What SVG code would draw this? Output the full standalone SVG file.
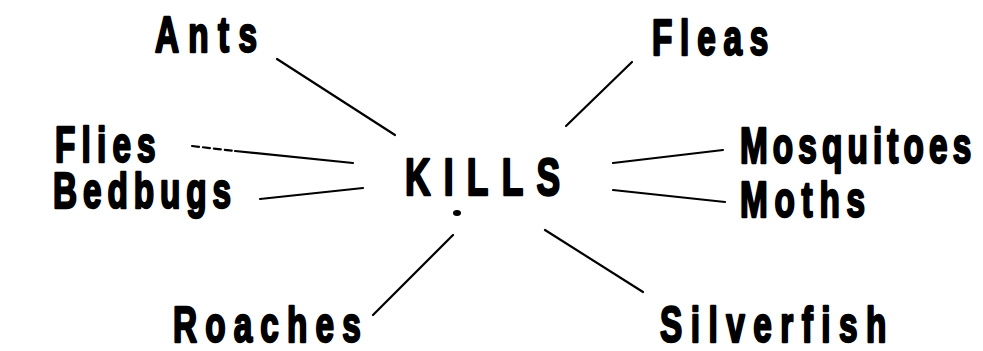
<svg xmlns="http://www.w3.org/2000/svg" width="983" height="351" viewBox="0 0 983 351">
<style>
.t{font-family:"Liberation Sans","DejaVu Sans",sans-serif;font-weight:bold;font-style:normal;font-size:49px;fill:#000;stroke:#000;stroke-width:2.4;stroke-linejoin:round}
.k{font-size:52px}
.c line{stroke:#000;stroke-width:2.2;stroke-linecap:round}
</style>
<rect width="983" height="351" fill="#fff"/>
<g id="connectors" class="c">
<line x1="277" y1="59" x2="395" y2="135"/>
<line x1="192" y1="146" x2="235" y2="151" stroke-dasharray="7 4"/>
<line x1="235" y1="151" x2="353" y2="163"/>
<line x1="260" y1="199" x2="363" y2="188"/>
<line x1="373" y1="315" x2="453" y2="235"/>
<line x1="566" y1="126" x2="632" y2="62"/>
<line x1="613" y1="163" x2="723" y2="150"/>
<line x1="613" y1="190" x2="725" y2="202"/>
<line x1="545" y1="230" x2="643" y2="292"/>
</g>
<g id="kills"><text class="t k" transform="translate(405,195) scale(0.68,1)" textLength="228" lengthAdjust="spacing">KILLS</text><ellipse cx="457" cy="213" rx="4" ry="3" fill="#000"/></g>
<g id="ants"><text class="t" transform="translate(155,52) scale(0.68,1)" textLength="150" lengthAdjust="spacing">Ants</text></g>
<g id="fleas"><text class="t" transform="translate(652,55) scale(0.68,1)" textLength="171" lengthAdjust="spacing">Fleas</text></g>
<g id="flies"><text class="t" transform="translate(55,162) scale(0.68,1)" textLength="148" lengthAdjust="spacing">Flies</text></g>
<g id="bedbugs"><text class="t" transform="translate(53,208) scale(0.68,1)" textLength="262" lengthAdjust="spacing">Bedbugs</text></g>
<g id="mosquitoes"><text class="t" transform="translate(740,163) scale(0.68,1)" textLength="340" lengthAdjust="spacing">Mosquitoes</text></g>
<g id="moths"><text class="t" transform="translate(740,217) scale(0.68,1)" textLength="184" lengthAdjust="spacing">Moths</text></g>
<g id="roaches"><text class="t" transform="translate(173,342) scale(0.68,1)" textLength="276" lengthAdjust="spacing">Roaches</text></g>
<g id="silverfish"><text class="t" transform="translate(660,342) scale(0.68,1)" textLength="333" lengthAdjust="spacing">Silverfish</text></g>
</svg>
